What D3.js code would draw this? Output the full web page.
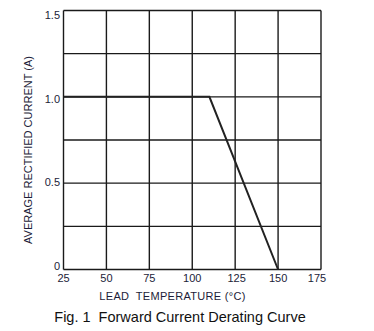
<!DOCTYPE html>
<html><head><meta charset="utf-8">
<script src="https://cdn.jsdelivr.net/npm/d3@7"></script>
<style>html,body{margin:0;padding:0;background:#fff;}svg{display:block;}</style>
</head><body>
<script>
const xTicks = [25, 50, 75, 100, 125, 150, 175];
const yTicks = [0, 0.25, 0.5, 0.75, 1.0, 1.25, 1.5];
const yLabels = [0, 0.5, 1.0, 1.5];
const yLabelText = ["0", "0.5", "1.0", "1.5"];
const curveTemp = [25, 110, 150];
const curveCurrent = [1.0, 1.0, 0];
const xTitle = "LEAD  TEMPERATURE (\u00B0C)";
const yTitle = "AVERAGE RECTIFIED CURRENT (A)";
const caption = "Fig. 1  Forward Current Derating Curve";

const W = 374, H = 331;
const svg = d3.select("body").append("svg").attr("width", W).attr("height", H);
const x = d3.scaleLinear().domain([25, 175]).range([63.5, 321]);
const y = d3.scaleLinear().domain([0, 1.5]).range([269.5, 10.5]);
const yLab = d3.scaleLinear().domain([0, 1.5]).range([266, 15]);
const font = "Liberation Sans, Arial, sans-serif";
const txt = "#1c1c38";

// grid
svg.append("g").selectAll("line").data(xTicks).join("line")
  .attr("x1", d => x(d)).attr("x2", d => x(d)).attr("y1", y(1.5)).attr("y2", y(0))
  .attr("stroke", "#1a1a1a").attr("stroke-width", 1.4);
svg.append("g").selectAll("line").data(yTicks).join("line")
  .attr("x1", x(25)).attr("x2", x(175)).attr("y1", d => y(d)).attr("y2", d => y(d))
  .attr("stroke", "#1a1a1a").attr("stroke-width", 1.4);

// curve
const pts = curveTemp.map((t, i) => [t, curveCurrent[i]]);
svg.append("path").datum(pts)
  .attr("d", d3.line().x(d => x(d[0])).y(d => y(d[1])))
  .attr("fill", "none").attr("stroke", "#222").attr("stroke-width", 2);

// y tick labels
svg.append("g").selectAll("text").data(yLabels).join("text")
  .attr("x", 60).attr("y", d => yLab(d)).attr("dy", "0.35em")
  .attr("text-anchor", "end").attr("font-family", font).attr("font-size", 11)
  .attr("fill", txt).text((d, i) => yLabelText[i]);

// x tick labels
svg.append("g").selectAll("text").data(xTicks).join("text")
  .attr("x", d => x(d) + (d === 175 ? -4 : d === 125 ? 1.5 : 0)).attr("y", 282)
  .attr("text-anchor", "middle").attr("font-family", font).attr("font-size", 11)
  .attr("fill", txt).text(d => d);

// axis titles
svg.append("text").attr("x", 172.5).attr("y", 299.5).attr("text-anchor", "middle")
  .attr("font-family", font).attr("font-size", 11).attr("letter-spacing", 0.3).attr("fill", txt)
  .style("white-space", "pre").text(xTitle);
svg.append("text").attr("transform", "translate(32,150) rotate(-90)")
  .attr("text-anchor", "middle").attr("font-family", font).attr("font-size", 11)
  .attr("fill", txt).text(yTitle);

// caption
svg.append("text").attr("x", 180).attr("y", 322).attr("text-anchor", "middle")
  .attr("font-family", font).attr("font-size", 14.5).attr("fill", "#111")
  .style("white-space", "pre").text(caption);
</script>
</body></html>
